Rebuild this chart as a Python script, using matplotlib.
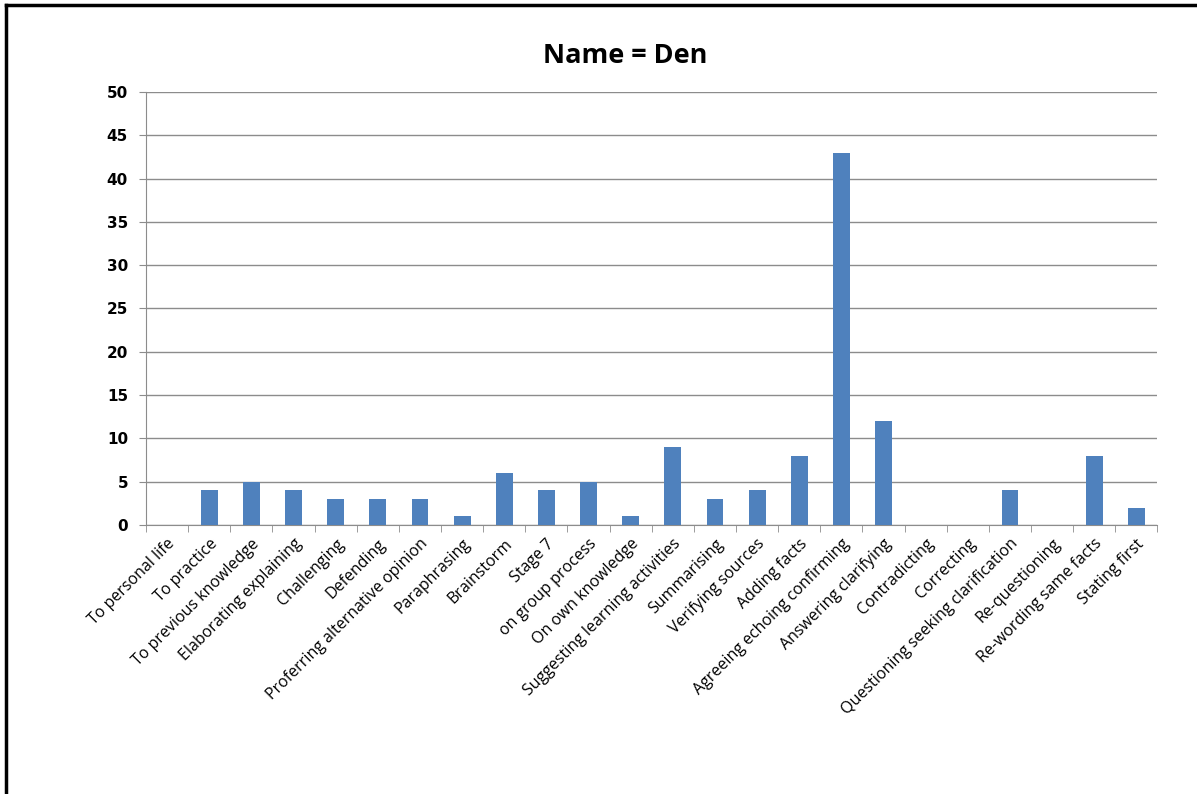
import matplotlib.pyplot as plt
import numpy as np

categories = ["To personal life", "To practice", "To previous knowledge",
              "Elaborating explaining", "Challenging", "Defending",
              "Proferring alternative opinion", "Paraphrasing", "Brainstorm",
              "Stage 7", "on group process", "On own knowledge",
              "Suggesting learning activities", "Summarising", "Verifying sources",
              "Adding facts", "Agreeing echoing confirming", "Answering clarifying",
              "Contradicting", "Correcting", "Questioning seeking clarification",
              "Re-questioning", "Re-wording same facts", "Stating first"]
counts = [0, 4, 5, 4, 3, 3, 3, 1, 6, 4, 5, 1, 9, 3, 4, 8, 43, 12, 0, 0, 4, 0, 8, 2]
yticks = [0, 5, 10, 15, 20, 25, 30, 35, 40, 45, 50]

fig = plt.figure(figsize=(11.97, 7.94), dpi=100)
ax = fig.add_axes([0.122, 0.339, 0.845, 0.545])

x = np.arange(len(categories))
ax.bar(x, counts, width=0.4, color="#4F81BD", zorder=3)

ax.set_xlim(-0.5, len(categories) - 0.5)
ax.set_ylim(0, 50)
ax.set_yticks(yticks)
ax.set_yticklabels([str(t) for t in yticks], fontsize=11, fontweight="bold",
                   family="DejaVu Sans")
ax.yaxis.grid(True, color="#8c8c8c", linewidth=1, zorder=0)

# category labels centred on bars, ticks between categories
ax.set_xticks(x)
ax.set_xticklabels(categories, rotation=45, ha="right", rotation_mode="anchor",
                   fontsize=11.5, family="Open Sans")
ax.tick_params(axis="x", length=0, pad=8)
ax.set_xticks(np.arange(-0.5, len(categories)), minor=True)
ax.tick_params(axis="x", which="minor", length=5, color="#8c8c8c")
ax.tick_params(axis="y", length=5, color="#8c8c8c", pad=8)

for side in ["top", "right"]:
    ax.spines[side].set_visible(False)
ax.spines["left"].set_color("#8c8c8c")
ax.spines["bottom"].set_color("#8c8c8c")

fig.text(0.522, 0.93, "Name = Den", ha="center", va="center", fontsize=19.5,
         fontweight="bold", family="Open Sans")

# frame lines along the left and top edge
fig.add_artist(plt.Line2D([0.005, 0.005], [0, 0.994], color="black", linewidth=2.5,
                          transform=fig.transFigure))
fig.add_artist(plt.Line2D([0.005, 1], [0.994, 0.994], color="black", linewidth=2.5,
                          transform=fig.transFigure))

fig.savefig("out.png", dpi=100)
